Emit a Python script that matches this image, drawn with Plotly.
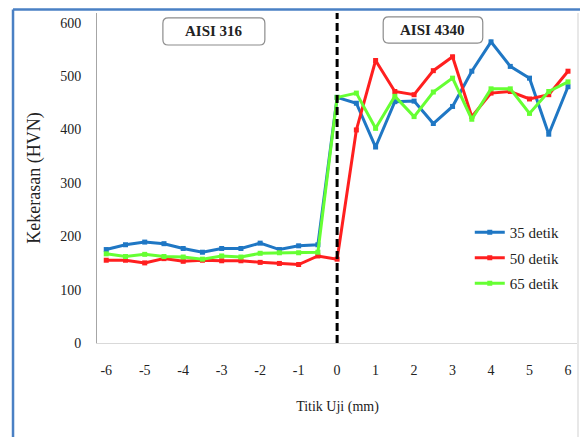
import plotly.graph_objects as go

x_vals = [-6, -5.5, -5, -4.5, -4, -3.5, -3, -2.5, -2, -1.5, -1, -0.5,
          0, 0.5, 1, 1.5, 2, 2.5, 3, 3.5, 4, 4.5, 5, 5.5, 6]

s35 = [175, 184, 189, 186, 177, 170, 177, 177, 187, 175, 182, 184,
       460, 449, 367, 452, 453, 411, 443, 509, 564, 518, 496, 391, 480]
s50 = [155, 155, 150, 158, 153, 155, 154, 154, 151, 149, 147, 163,
       157, 399, 529, 471, 465, 510, 536, 424, 468, 471, 457, 465, 509]
s65 = [167, 162, 166, 162, 161, 157, 163, 161, 168, 169, 169, 170,
       460, 468, 402, 462, 424, 470, 496, 419, 476, 476, 430, 471, 489]

series_names = ["35 detik", "50 detik", "65 detik"]
series_colors = ["#1f77c4", "#ff1f1f", "#66ff33"]
x_ticks = [-6, -5, -4, -3, -2, -1, 0, 1, 2, 3, 4, 5, 6]
y_ticks = [0, 100, 200, 300, 400, 500, 600]

SERIF = "Liberation Serif"

fig = go.Figure()
for name, ys, col in zip(series_names, [s35, s50, s65], series_colors):
    fig.add_trace(go.Scatter(
        x=x_vals, y=ys, name=name, mode="lines+markers", legendgroup=name,
        line=dict(color=col, width=3),
        marker=dict(symbol="square", size=5, color=col),
    ))

# vertical dashed separator at x=0
fig.add_shape(type="line", xref="x", yref="paper", x0=0, x1=0, y0=0, y1=1,
              line=dict(color="black", width=3, dash="8px,4px"))


def rounded_box(x0, x1, y0, y1, rx=0.011, ry=0.016):
    return (f"M {x0+rx},{y0} L {x1-rx},{y0} Q {x1},{y0} {x1},{y0+ry} "
            f"L {x1},{y1-ry} Q {x1},{y1} {x1-rx},{y1} "
            f"L {x0+rx},{y1} Q {x0},{y1} {x0},{y1-ry} "
            f"L {x0},{y0+ry} Q {x0},{y0} {x0+rx},{y0} Z")


for (bx0, bx1, by0, by1, label) in [(0.137, 0.349, 0.903, 0.985, "AISI 316"),
                                    (0.595, 0.802, 0.909, 0.988, "AISI 4340")]:
    fig.add_shape(type="path", xref="paper", yref="paper",
                  path=rounded_box(bx0, bx1, by0, by1),
                  line=dict(color="#8c8c8c", width=1.2), fillcolor="white")
    fig.add_annotation(xref="paper", yref="paper", x=(bx0 + bx1) / 2, y=(by0 + by1) / 2,
                       xanchor="center", yanchor="middle",
                       text=f"<b>{label}</b>", showarrow=False,
                       font=dict(family=SERIF, size=15, color="#222222"))

# outer frame lines (blue top and left, light right)
fig.add_shape(type="line", xref="paper", yref="paper", x0=-0.1746, x1=1.01, y0=1.0106, y1=1.0106,
              line=dict(color="#4a80c4", width=2.5))
fig.add_shape(type="line", xref="paper", yref="paper", x0=-0.1746, x1=-0.1746, y0=-0.29, y1=1.0106,
              line=dict(color="#4a80c4", width=2.5))
fig.add_shape(type="line", xref="paper", yref="paper", x0=1.0, x1=1.0, y0=-0.29, y1=1.0,
              line=dict(color="#e8e8e8", width=2))

fig.update_layout(
    width=580, height=437,
    margin=dict(l=97, r=2, t=13, b=94),
    paper_bgcolor="white", plot_bgcolor="white",
    font=dict(family=SERIF, size=14, color="#222222"),
    showlegend=True,
    legend=dict(x=0.775, y=0.385, xanchor="left", yanchor="top",
                bgcolor="rgba(255,255,255,0)", font=dict(family=SERIF, size=15, color="#222222"),
                tracegroupgap=3, itemwidth=30),
    xaxis=dict(range=[-6.24, 6.26], tickvals=x_ticks, ticktext=[str(v) for v in x_ticks],
               showgrid=False, zeroline=False, showline=True, linecolor="#d9d9d9", linewidth=1,
               ticks="", ticklabelstandoff=14,
               title=dict(text="Titik Uji (mm)", font=dict(family=SERIF, size=14), standoff=24),
               tickfont=dict(family=SERIF, size=14)),
    yaxis=dict(range=[0, 618], tickvals=y_ticks, showgrid=False, zeroline=False,
               showline=True, linecolor="#a6a6a6", linewidth=1, ticks="",
               ticklabelstandoff=12,
               title=dict(text="Kekerasan (HVN)", font=dict(family=SERIF, size=18), standoff=14),
               tickfont=dict(family=SERIF, size=14)),
)

fig.write_html("out.html")
